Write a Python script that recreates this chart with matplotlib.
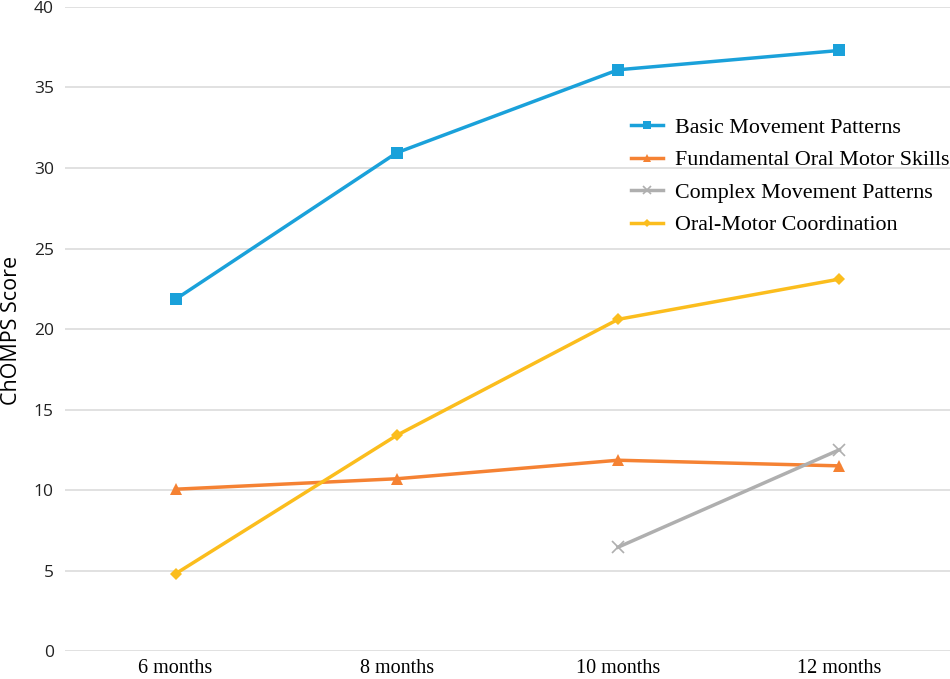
import numpy as np
import matplotlib.pyplot as plt

# data
months = ['6 months', '8 months', '10 months', '12 months']
basic_movement = [21.85, 30.95, 36.1, 37.3]
oral_motor_skills = [10.05, 10.7, 11.85, 11.5]
complex_movement = [np.nan, np.nan, 6.45, 12.5]
oral_motor_coord = [4.8, 13.4, 20.6, 23.1]

series = [
    ('Basic Movement Patterns', basic_movement, '#1aa1da', 's', 9),
    ('Fundamental Oral Motor Skills', oral_motor_skills, '#f58233', '^', 9),
    ('Complex Movement Patterns', complex_movement, '#afafaf', 'x', 9),
    ('Oral-Motor Coordination', oral_motor_coord, '#fbbd1d', 'D', 6),
]

fig = plt.figure(figsize=(9.5, 6.79), dpi=100)
ax = fig.add_axes([0.0684, 0.0412, 0.9316, 0.9485])

x = np.arange(len(months))
for name, vals, col, mk, ms in series:
    ax.plot(x, vals, color=col, lw=2.5, marker=mk, markersize=ms,
            markeredgewidth=1.2 if mk == 'x' else 0, label=name, zorder=3)

ax.set_xlim(-0.5, 3.5)
ax.set_ylim(0, 40)
ax.set_yticks(range(0, 41, 5))
ax.set_xticks(x)
ax.set_xticklabels(months, family='Liberation Serif', fontsize=14.5)
for lbl in ax.get_yticklabels():
    lbl.set_family('Open Sans')
    lbl.set_fontsize(12.5)
    lbl.set_color('#222222')
ax.grid(axis='y', color='#dcdcdc', lw=1.2)
ax.set_axisbelow(True)
for s in ax.spines.values():
    s.set_visible(False)
ax.tick_params(length=0)
ax.tick_params(axis='x', pad=6)
ax.tick_params(axis='y', pad=8)
fig.text(0.012, 0.514, 'ChOMPS Score', family='Open Sans', fontsize=15.5,
         rotation=90, ha='center', va='center')

leg = ax.legend(loc='upper left', bbox_to_anchor=(0.617, 0.859), frameon=False,
                prop={'family': 'Liberation Serif', 'size': 15.8},
                handlelength=1.45, handletextpad=0.55, labelspacing=0.55,
                markerscale=0.65)

fig.savefig('out.png', dpi=100)
